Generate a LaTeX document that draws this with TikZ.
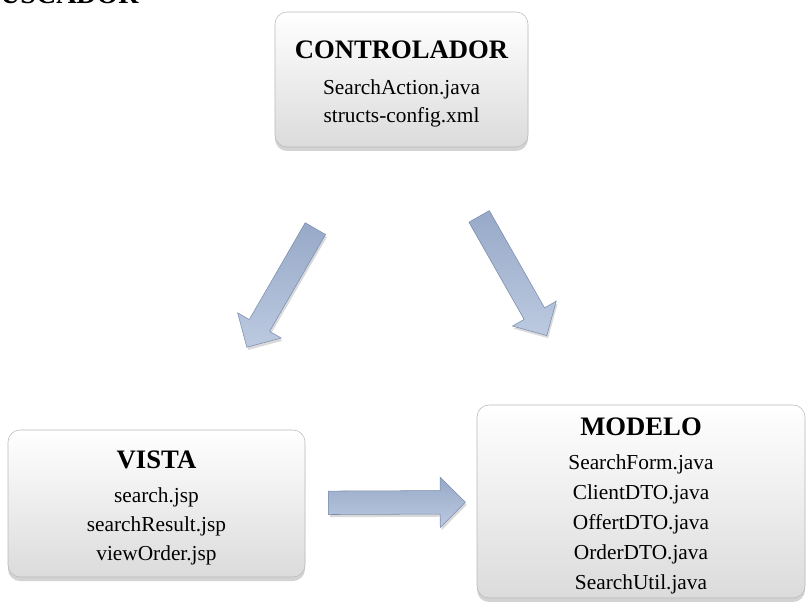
\documentclass[tikz,border=0pt]{standalone}
\usepackage{fontspec}
\setmainfont{Liberation Serif}
\usepackage{xcolor}
\usetikzlibrary{shapes.arrows, shadows, positioning, calc}

\definecolor{flechaclara}{HTML}{BCCAE0}
\definecolor{flechaoscura}{HTML}{97A9C8}
\definecolor{flechaborde}{HTML}{7A8DAE}

\newcommand{\titulo}[1]{{\fontsize{20}{24}\selectfont\bfseries\rule{0pt}{20pt}#1}}

\begin{document}
\begin{tikzpicture}[
    x=0.75pt, y=-0.75pt,
    box/.style={draw=gray!55, rounded corners=9pt, top color=white, bottom color=gray!28,
        drop shadow={shadow xshift=0pt, shadow yshift=-3pt, opacity=.35},
        align=center, inner sep=0pt,
        font=\fontsize{16}{21.5}\selectfont},
    flecha/.style={single arrow, draw=flechaborde, thin, top color=flechaoscura, bottom color=flechaclara,
        minimum height=102.75pt, minimum width=0pt, inner xsep=0pt, inner ysep=8.6pt,
        single arrow head extend=10.1pt, single arrow tip angle=90,
        drop shadow={shadow xshift=1pt, shadow yshift=-2pt, opacity=.3}}
]
    \useasboundingbox (0,0) rectangle (806,602);

    % Heading (cut at the top)
    \node[anchor=base west, inner sep=0pt, font=\fontsize{21}{24}\selectfont\bfseries] (head) at (0,4) {USCADOR};

    % Controller
    \node[box, minimum width=189.75pt, minimum height=101.25pt] (ctrl) at (401.5,79.5)
        {\titulo{CONTROLADOR}\\[5.5pt]SearchAction.java\\structs-config.xml};

    % View
    \node[box, minimum width=222.75pt, minimum height=110.25pt] (vista) at (156.5,503.5)
        {\titulo{VISTA}\\[4pt]search.jsp\\searchResult.jsp\\viewOrder.jsp};

    % Model
    \node[box, minimum width=246pt, minimum height=144.75pt, font=\fontsize{16}{22.5}\selectfont] (modelo) at (641,501.5)
        {\titulo{MODELO}\\[3pt]SearchForm.java\\ClientDTO.java\\OffertDTO.java\\OrderDTO.java\\SearchUtil.java};

    % Arrows
    \path (ctrl) -- node[flecha, sloped, allow upside down, pos=0.48] (a1) {} (vista);
    \path (ctrl) -- node[flecha, sloped, allow upside down, pos=0.48] (a2) {} (modelo);
    \path (vista) -- node[flecha, sloped] (a3) {} (modelo);
\end{tikzpicture}
\end{document}
